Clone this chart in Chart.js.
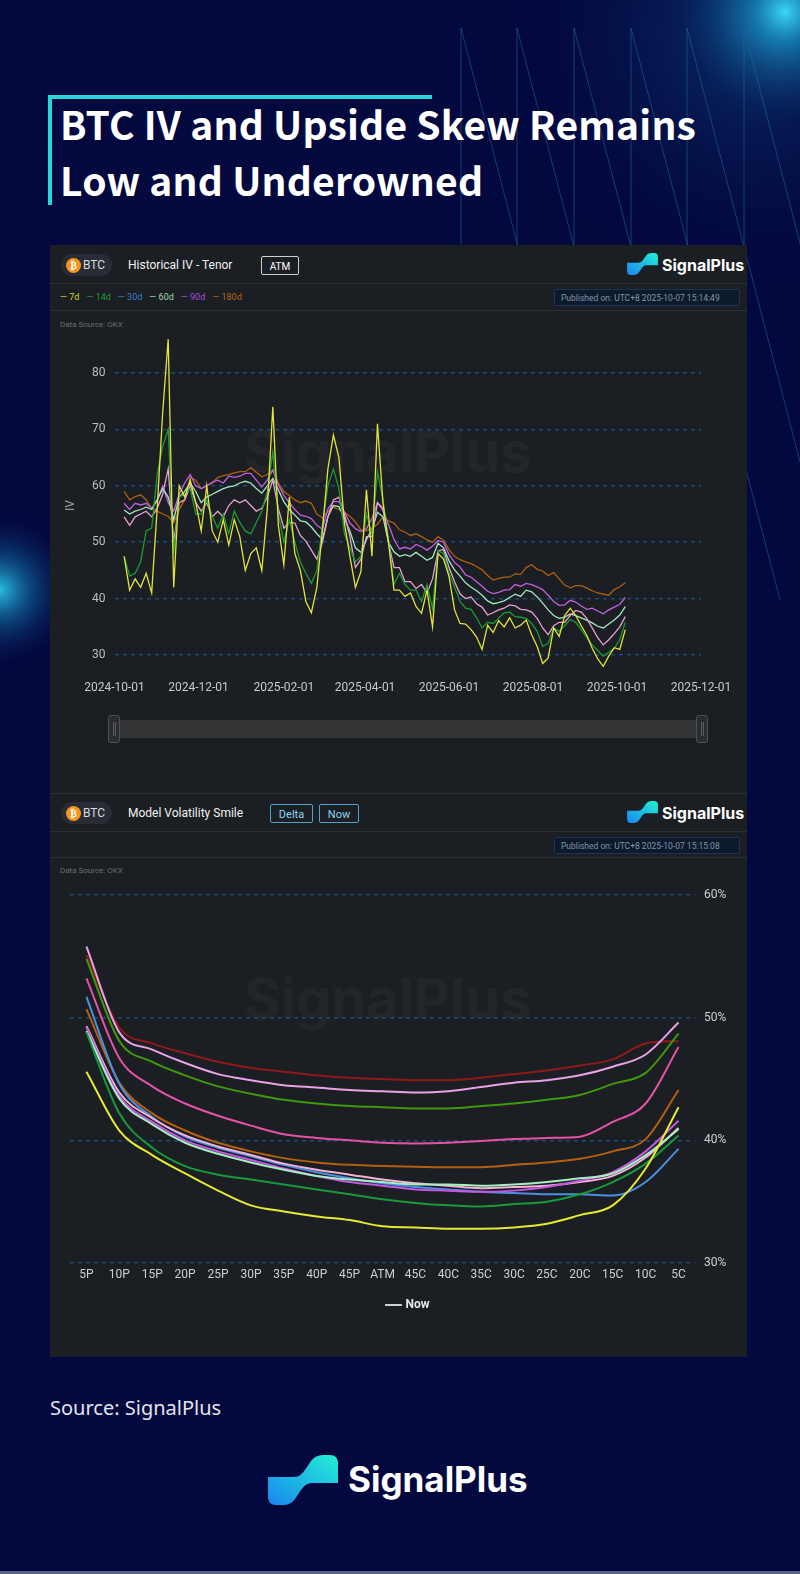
<!DOCTYPE html>
<html>
<head>
<meta charset="utf-8">
<script src="https://cdn.jsdelivr.net/npm/chart.js@4.4.1/dist/chart.umd.min.js"></script>
<style>
  body { margin:0; width:800px; height:1574px; background:#03083f; overflow:hidden; position:relative; font-family:Roboto, "Noto Sans", sans-serif; }
  .abs { position:absolute; }
  .title { left:60px; color:#fff; font-family:"Noto Sans CJK SC", "Noto Sans", sans-serif; font-weight:700; font-size:39px; letter-spacing:0.2px; line-height:56px; white-space:nowrap; }
  .panel { left:50px; top:245px; width:697px; height:1112px; background:#1b1e22; }
  .sep { left:50px; width:697px; height:1px; background:#2a2e35; }
  .pill { width:51px; height:22px; border-radius:11px; background:#272c37; }
  .coin { left:5px; top:3.5px; width:15px; height:15px; border-radius:50%; background:#f7931a; color:#fff; font:bold 10px "DejaVu Sans"; text-align:center; line-height:15px; }
  .pill span.t { position:absolute; left:22px; top:0; line-height:22px; font-size:12px; color:#dcdcdc; }
  .head { color:#f2f2f2; font-size:12px; line-height:16px; }
  .tag { height:19px; line-height:19px; text-align:center; font-size:10px; border-radius:2px; box-sizing:border-box; }
  .pub { width:186px; height:17px; line-height:16px; box-sizing:border-box; background:#0c1a2c; border:1px solid #1d3454; border-radius:2px; color:#8593a8; font-size:8.5px; padding-left:6px; }
  .src { left:60px; font-size:8px; color:#6a6e75; }
  .brand { color:#fff; font-family:Inter, sans-serif; font-weight:700; }
  .wm { color:rgba(255,255,255,0.035); font-family:Inter, sans-serif; font-weight:700; font-size:56px; }
  .leg span { margin-right:7px; }
</style>
</head>
<body>
<svg class="abs" style="left:0;top:0" width="800" height="1574">
  <defs>
    <radialGradient id="glowTR" cx="785" cy="12" r="120" gradientUnits="userSpaceOnUse">
      <stop offset="0" stop-color="#3fe0ff" stop-opacity="0.95"/>
      <stop offset="0.25" stop-color="#1aa8d8" stop-opacity="0.6"/>
      <stop offset="1" stop-color="#03083f" stop-opacity="0"/>
    </radialGradient>
    <radialGradient id="glowTR2" cx="760" cy="30" r="260" gradientUnits="userSpaceOnUse">
      <stop offset="0" stop-color="#1466a8" stop-opacity="0.45"/>
      <stop offset="1" stop-color="#03083f" stop-opacity="0"/>
    </radialGradient>
    <radialGradient id="glowL" cx="0" cy="590" r="80" gradientUnits="userSpaceOnUse">
      <stop offset="0" stop-color="#2fd0f0" stop-opacity="0.9"/>
      <stop offset="0.4" stop-color="#1488c0" stop-opacity="0.45"/>
      <stop offset="1" stop-color="#03083f" stop-opacity="0"/>
    </radialGradient>
  </defs>
  <rect x="0" y="0" width="800" height="600" fill="url(#glowTR2)"/>
  <rect x="600" y="0" width="200" height="200" fill="url(#glowTR)"/>
  <rect x="0" y="480" width="120" height="220" fill="url(#glowL)"/>
  <g stroke="#1f6c98" stroke-width="0.8" stroke-opacity="0.7" fill="none">
    <line x1="461" y1="28" x2="461" y2="245"/><line x1="461" y1="28" x2="610" y2="600"/>
    <line x1="517" y1="28" x2="517" y2="245"/><line x1="517" y1="28" x2="666" y2="600"/>
    <line x1="574" y1="28" x2="574" y2="245"/><line x1="574" y1="28" x2="723" y2="600"/>
    <line x1="631" y1="28" x2="631" y2="245"/><line x1="631" y1="28" x2="780" y2="600"/>
    <line x1="687" y1="28" x2="687" y2="245"/><line x1="687" y1="28" x2="836" y2="600"/>
    <line x1="744" y1="28" x2="744" y2="245"/><line x1="744" y1="28" x2="893" y2="600"/>
  </g>
  <rect x="0" y="1571" width="800" height="3" fill="#5d6285"/>
</svg>

<div class="abs" style="left:48px;top:95px;width:384px;height:4px;background:#25d5d8"></div>
<div class="abs" style="left:48px;top:95px;width:4px;height:110px;background:#25d5d8"></div>
<div class="abs title" style="top:95px">BTC IV and Upside Skew Remains</div>
<div class="abs title" style="top:151px">Low and Underowned</div>

<div class="abs panel"></div>

<!-- chart 1 header -->
<div class="abs pill" style="left:61px;top:254px"><div class="abs coin">₿</div><span class="t">BTC</span></div>
<div class="abs head" style="left:128px;top:257px">Historical IV - Tenor</div>
<div class="abs tag" style="left:261px;top:256px;width:38px;border:1.5px solid #cfcfcf;color:#fff">ATM</div>
<svg class="abs" style="left:627px;top:253px" width="31" height="22" viewBox="0 0 70 50">
  <defs><linearGradient id="lg1" x1="0" y1="1" x2="1" y2="0"><stop offset="0" stop-color="#1a86f0"/><stop offset="1" stop-color="#22f0d4"/></linearGradient></defs>
  <path d="M0,22 L26,22 C32,22 35,18 39,12 L43,6 C46,2 50,0 55,0 L62,0 C67,0 70,3 70,8 L70,28 L44,28 C38,28 35,32 31,38 L27,44 C24,48 20,50 15,50 L8,50 C3,50 0,47 0,42 Z" fill="url(#lg1)"/>
</svg>
<div class="abs brand" style="left:662px;top:254px;font-size:16px;line-height:22px">SignalPlus</div>
<div class="abs sep" style="top:283px"></div>
<div class="abs leg" style="left:60px;top:291px;font-size:9px;line-height:12px;white-space:nowrap">
  <span style="color:#c8d43a">— 7d</span><span style="color:#1f9c3c">— 14d</span><span style="color:#3a7fd0">— 30d</span><span style="color:#9ed8b0">— 60d</span><span style="color:#b04ed8">— 90d</span><span style="color:#b8651a">— 180d</span>
</div>
<div class="abs pub" style="left:554px;top:289px">Published on: UTC+8 2025-10-07 15:14:49</div>
<div class="abs sep" style="top:310px"></div>
<div class="abs src" style="top:320px">Data Source: OKX</div>
<div class="abs wm" style="left:244px;top:418px">SignalPlus</div>
<div class="abs" style="left:50px;top:310px;width:697px;height:392px"><canvas id="ivChart"></canvas></div>

<!-- slider -->
<div class="abs" style="left:112px;top:720px;width:592px;height:18px;background:#323436"></div>
<div class="abs" style="left:108px;top:715px;width:12px;height:28px;box-sizing:border-box;border:1.5px solid #4d5055;border-radius:3px;background:#2a2c30"></div>
<div class="abs" style="left:696px;top:715px;width:12px;height:28px;box-sizing:border-box;border:1.5px solid #4d5055;border-radius:3px;background:#2a2c30"></div>
<div class="abs" style="left:112.5px;top:722px;width:1px;height:14px;background:#5a5d62"></div>
<div class="abs" style="left:115px;top:722px;width:1px;height:14px;background:#5a5d62"></div>
<div class="abs" style="left:700.5px;top:722px;width:1px;height:14px;background:#5a5d62"></div>
<div class="abs" style="left:703px;top:722px;width:1px;height:14px;background:#5a5d62"></div>

<!-- chart 2 header -->
<div class="abs sep" style="top:793px"></div>
<div class="abs pill" style="left:61px;top:802px"><div class="abs coin">₿</div><span class="t">BTC</span></div>
<div class="abs head" style="left:128px;top:805px">Model Volatility Smile</div>
<div class="abs tag" style="left:270px;top:804px;width:43px;border:1px solid #4aa3c8;color:#8fd4f5;font-size:11px">Delta</div>
<div class="abs tag" style="left:319px;top:804px;width:40px;border:1px solid #4aa3c8;color:#8fd4f5;font-size:11px">Now</div>
<svg class="abs" style="left:627px;top:801px" width="31" height="22" viewBox="0 0 70 50">
  <defs><linearGradient id="lg2" x1="0" y1="1" x2="1" y2="0"><stop offset="0" stop-color="#1a86f0"/><stop offset="1" stop-color="#22f0d4"/></linearGradient></defs>
  <path d="M0,22 L26,22 C32,22 35,18 39,12 L43,6 C46,2 50,0 55,0 L62,0 C67,0 70,3 70,8 L70,28 L44,28 C38,28 35,32 31,38 L27,44 C24,48 20,50 15,50 L8,50 C3,50 0,47 0,42 Z" fill="url(#lg2)"/>
</svg>
<div class="abs brand" style="left:662px;top:802px;font-size:16px;line-height:22px">SignalPlus</div>
<div class="abs sep" style="top:831px"></div>
<div class="abs pub" style="left:554px;top:837px">Published on: UTC+8 2025-10-07 15:15:08</div>
<div class="abs sep" style="top:857px"></div>
<div class="abs src" style="top:866px">Data Source: OKX</div>
<div class="abs wm" style="left:244px;top:965px">SignalPlus</div>
<div class="abs" style="left:50px;top:870px;width:697px;height:452px"><canvas id="smileChart"></canvas></div>

<!-- footer -->
<div class="abs" style="left:50px;top:1395px;color:#e4e4ec;font-family:'Noto Sans',sans-serif;font-size:20px;line-height:26px">Source: SignalPlus</div>
<svg class="abs" style="left:268px;top:1455px" width="70" height="50" viewBox="0 0 70 50">
  <defs><linearGradient id="lg3" x1="0" y1="1" x2="1" y2="0"><stop offset="0" stop-color="#1a86f0"/><stop offset="1" stop-color="#22f0d4"/></linearGradient></defs>
  <path d="M0,22 L26,22 C32,22 35,18 39,12 L43,6 C46,2 50,0 55,0 L62,0 C67,0 70,3 70,8 L70,28 L44,28 C38,28 35,32 31,38 L27,44 C24,48 20,50 15,50 L8,50 C3,50 0,47 0,42 Z" fill="url(#lg3)"/>
</svg>
<div class="abs brand" style="left:348px;top:1457px;font-size:35px;line-height:44px">SignalPlus</div>

<script>
// ---- Historical IV - Tenor (day offsets from 2024-10-01) ----
const days = [7,11,15,19,23,27,31,35,39,43,47,51,55,59,63,67,71,75,79,83,87,91,95,99,103,107,111,115,119,123,
  127,131,135,139,143,147,151,155,159,163,167,171,175,179,183,187,191,195,199,203,207,211,215,219,223,227,231,235,239,243,
  247,251,255,259,263,267,271,275,279,283,287,291,295,299,303,307,311,315,319,323,327,331,335,339,343,347,351,355,359,363,367,371];
const tickDays = [0, 61, 123, 182, 243, 304, 365, 426];
const tickLabels = ["2024-10-01", "2024-12-01", "2025-02-01", "2025-04-01", "2025-06-01", "2025-08-01", "2025-10-01", "2025-12-01"];

const iv7d = [47.5,41.5,43.5,42,44.5,41,56,73,86,42, 60,58,61,57,52,60,52,50,54,49.5,
  54,51,45,48,49,45,56,74,53,46, 58,48,45,39.5,37.5,42,52,63,69,65,
  53.4,47.5,42,44.8,59.3,47.5,71,57,50,41.5, 41.5,40.4,41,38.6,37.4,41.5,35,48,47,43.9,
  38,35.6,35.5,34.5,33.2,31,35.3,34,36.1,35, 36.6,34.8,35.3,36.2,33.6,31.5,28.5,29.5,34.8,33.3,
  37,38.3,37,35.2,33.5,31.2,29.3,28,29.8,31.3, 31,34.5];
const iv14d = [47.5,44,44.5,46.5,52,52.5,62,67,70,48, 58,58.5,59.5,55,55,57.5,54.5,52.5,55,51.5,
  55.5,53.5,52,51.5,53.5,55.5,59,66,55,50, 54,50,46.5,44.5,42.7,45,53,60,63,59.5,
  51.5,49,46.5,47.5,55,51.5,62.5,57.5,50.5,42.5, 44.5,42.5,41.5,41.5,39.5,42.5,38.2,48.5,48,44.5,
  42,39.5,38.3,38.1,36.6,34.8,35.8,35.6,36.5,37.5, 37.6,36.8,36.7,36.5,35.6,34.2,31.5,32.1,34.8,34.2,
  35.2,36.3,35.8,34.5,33.1,31.8,30.8,29.8,30.5,31.2, 32.7,35.8];
const iv30d = [54.5,53,54.5,55,55.5,54.5,56,58.5,63,50, 57,57.5,60,57,55.5,57,54.5,55.5,54.5,56.5,
  57.5,57,57.5,56.5,55.5,56,58,61,56,52.5, 53.5,53.4,51.2,50.2,48.6,47,50,54.5,57.5,58,
  55,51,45.5,47,51,51,57,56,50,45.5, 45.5,43,43,41.8,42.5,41,43.5,48.5,48.7,45.5,
  43,40.8,40,40.3,39.1,38.5,37.1,37.5,38,38.3, 38.9,38.7,38.1,38,37.6,36.5,34.8,33.6,35.2,35.8,
  35.8,37,37.9,37.6,36.5,34.8,33.1,31.8,32.7,33.8, 35,36.8];
const iv60d = [55.7,55,55.5,55.8,56.2,55.8,57.5,59.5,58,54, 58,59,60.5,59,57,58,58.5,59,59.5,59.8,
  60,60.5,60.8,60.5,59.5,58.7,60,61.3,59.3,57.2, 55.8,54.8,53.8,53.6,52.7,51.5,50.5,54.5,56.5,56.3,
  54.2,52,49,48.2,50.5,52.2,55.3,54.5,50,48.3, 47.5,47.8,47.5,48.2,47.5,46.8,47.3,49.8,49,46.7,
  45.1,44,42.8,42,41.4,40.6,39.6,39.1,39.3,39.6, 40.2,40.8,40.4,41.5,41.2,40.3,39.2,38,37,36.5,
  36.7,37.3,37,36.6,36.2,35.7,35.1,34.8,35.5,36.2, 37.1,38.6];
const iv90d = [56.9,55.8,56.9,56.6,56.9,56,57.5,60,57,55.5, 58.5,60.5,62,60,59.5,60,60.6,61,60.5,61.7,
  61.5,61.7,62.2,62.2,61,59.8,61,62.8,60.2,58.3, 57,55.8,54.8,54.6,54.2,53,52.3,55.9,57.2,57.2,
  55.4,53.4,52.4,51.9,52.4,54.2,57,55.6,53.2,50.5, 48.8,49.1,48.8,49.6,49.2,48.6,49.3,50.3,50,47.8,
  46.4,45.6,44.2,43.8,43,42.2,41.3,40.9,41.1,41.5, 41.6,42.5,42.2,42.7,42.5,42.1,41.6,40.6,39.5,38.8,
  38.9,39.7,39.4,38.7,38.1,38.3,37.8,37.3,38,38.5, 39,40.2];
const iv180d = [59,57.5,58.1,58.4,57.5,56,55.5,55,54.6,53.4, 55.8,57.5,61.5,61,59.5,60,60.5,61.5,61.8,62,
  62.3,62.5,62.5,63.2,62.4,61.6,62,62.8,60.5,59, 58.3,57.5,57,57.3,56.9,55,54.3,55.5,56.2,55.8,
  55.3,54.6,53.6,52.2,52,52.5,53.2,54.5,53.8,53.4, 52.2,51.8,51.2,51.5,51,50.4,50,51,50.3,48.7,
  47.5,46.9,46.5,46.2,45.7,45.1,44.1,43.3,43.6,43.8, 43.8,44.4,44.3,45.5,46,45.2,44.9,44.1,44.6,43.5,
  42.4,41.9,42.3,42.3,41.9,41.4,41,40.8,40.6,41.6, 42.1,42.8];

// ---- Model Volatility Smile ----
const deltaLabels = ["5P","10P","15P","20P","25P","30P","35P","40P","45P","ATM","45C","40C","35C","30C","25C","20C","15C","10C","5C"];
const smileDarkRed   = [55.1,49.2,47.9,47.1,46.4,45.9,45.6,45.3,45.1,45.0,44.9,44.9,45.1,45.4,45.7,46.1,46.6,47.9,48.1];
const smileLavender  = [55.8,48.8,47.4,46.3,45.4,44.9,44.5,44.3,44.1,44.0,43.9,44.0,44.35,44.7,44.9,45.3,46.0,47.0,49.6];
const smileGreen     = [54.8,48.1,46.4,45.3,44.4,43.8,43.3,43.0,42.8,42.7,42.6,42.6,42.8,43.0,43.3,43.7,44.6,45.5,48.7];
const smileHotPink   = [53.2,46.7,44.4,43.0,42.0,41.2,40.5,40.2,40.0,39.8,39.75,39.8,39.95,40.1,40.2,40.3,41.5,43.0,47.6];
const smileBrown     = [50.7,44.7,42.2,40.8,39.8,39.1,38.55,38.2,38.0,37.9,37.85,37.8,37.8,38.0,38.2,38.5,39.1,40.1,44.1];
const smileBlue      = [51.7,44.6,41.9,40.3,39.4,38.7,38.0,37.4,36.9,36.5,36.2,36.0,35.8,35.7,35.6,35.6,35.5,36.6,39.3];
const smileLightPink = [49.3,43.9,41.8,40.4,39.5,38.8,38.1,37.6,37.2,36.8,36.5,36.3,36.1,36.2,36.3,36.6,37.1,38.6,41.0];
const smilePurple    = [49.2,43.6,41.5,40.0,39.1,38.4,37.7,37.1,36.6,36.3,36.0,35.9,35.8,35.9,36.2,36.7,37.4,39.1,41.6];
const smileMint      = [48.9,43.4,41.3,39.8,38.9,38.2,37.6,37.1,36.8,36.6,36.4,36.4,36.3,36.4,36.6,36.9,37.3,38.8,40.9];
const smileDarkGreen = [48.8,42.2,39.4,37.9,37.2,36.8,36.4,36.0,35.6,35.2,34.9,34.7,34.6,34.8,35.0,35.6,36.6,38.1,40.4];
const smileYellow    = [45.6,40.8,38.8,37.3,35.9,34.7,34.2,33.8,33.5,33.0,32.9,32.8,32.8,32.9,33.2,33.9,34.7,37.7,42.7];

Chart.defaults.font.family = "Roboto";
Chart.defaults.animation = false;

const gridBlue = "#1a4b7d";

function ivSet(label, values, color) {
  return {
    label: label,
    data: days.map((d, i) => ({ x: d, y: values[i] })),
    borderColor: color,
    borderWidth: 1.3,
    pointRadius: 0,
    tension: 0,
    fill: false
  };
}

new Chart("ivChart", {
  type: "line",
  data: {
    datasets: [
      ivSet("7d", iv7d, "#e3e43c"),
      ivSet("14d", iv14d, "#1b9a32"),
      ivSet("30d", iv30d, "#e9a2d2"),
      ivSet("60d", iv60d, "#a2e9c2"),
      ivSet("90d", iv90d, "#c35fe3"),
      ivSet("180d", iv180d, "#b0600f")
    ]
  },
  options: {
    responsive: true,
    maintainAspectRatio: false,
    events: [],
    layout: { padding: { top: 23.5, right: 46, bottom: 0, left: 0 } },
    plugins: { legend: { display: false }, tooltip: { enabled: false } },
    scales: {
      x: {
        type: "linear", min: 0, max: 426,
        grid: { display: false, drawTicks: false },
        border: { display: false },
        afterBuildTicks: (s) => { s.ticks = tickDays.map(v => ({ value: v })); },
        afterFit: (s) => { s.height = 24.4; },
        ticks: {
          autoSkip: false, maxRotation: 0, padding: 3, color: "#c9c9c9", font: { size: 12 },
          callback: (v) => tickLabels[tickDays.indexOf(v)]
        }
      },
      y: {
        min: 26, max: 87,
        afterFit: (s) => { s.width = 64.5; },
        grid: { color: gridBlue, lineWidth: 1.5, drawTicks: false },
        border: { display: false, dash: [4, 4] },
        ticks: { stepSize: 10, includeBounds: false, padding: 9, color: "#bdbdbd", font: { size: 12 } },
        title: { display: true, text: "IV", color: "#a0a0a0", font: { size: 12 }, padding: { top: 14, bottom: 0 } }
      }
    }
  }
});

function smileSet(values, color) {
  return {
    label: "Now",
    data: values,
    borderColor: color,
    borderWidth: 2,
    pointRadius: 0,
    cubicInterpolationMode: "monotone",
    fill: false
  };
}

new Chart("smileChart", {
  type: "line",
  data: {
    labels: deltaLabels,
    datasets: [
      smileSet(smileYellow, "#e6ea32"),
      smileSet(smileDarkGreen, "#179a3a"),
      smileSet(smileMint, "#a8f0c2"),
      smileSet(smilePurple, "#c657e4"),
      smileSet(smileLightPink, "#f4b3d6"),
      smileSet(smileBlue, "#4a90e2"),
      smileSet(smileBrown, "#b5600f"),
      smileSet(smileHotPink, "#e552a8"),
      smileSet(smileGreen, "#3f9a0c"),
      smileSet(smileLavender, "#e7a3e6"),
      smileSet(smileDarkRed, "#8e1a1a")
    ]
  },
  options: {
    responsive: true,
    maintainAspectRatio: false,
    events: [],
    layout: { padding: { top: 25, right: 0, bottom: 1, left: 20 } },
    plugins: {
      tooltip: { enabled: false },
      legend: {
        position: "bottom",
        onClick: null,
        labels: {
          usePointStyle: true,
          color: "#e8e8e8",
          padding: 10,
          font: { size: 12, weight: "bold" },
          generateLabels: () => [{
            text: "Now", fillStyle: "#cfcfcf", strokeStyle: "#cfcfcf", lineWidth: 2,
            pointStyle: "line", hidden: false, datasetIndex: 0, fontColor: "#e8e8e8"
          }]
        }
      }
    },
    scales: {
      x: {
        offset: true,
        grid: { display: false, drawTicks: false },
        border: { display: false },
        afterFit: (s) => { s.height = 26; },
        ticks: { autoSkip: false, maxRotation: 0, padding: 5, color: "#cfcfcf", font: { size: 12 } }
      },
      y: {
        position: "right",
        min: 30, max: 60,
        afterFit: (s) => { s.width = 52; },
        grid: { color: gridBlue, lineWidth: 1.5, drawTicks: false },
        border: { display: false, dash: [4, 4] },
        ticks: { stepSize: 10, padding: 9, color: "#cfcfcf", font: { size: 12 }, callback: (v) => v + "%" }
      }
    }
  }
});
</script>
</body>
</html>
